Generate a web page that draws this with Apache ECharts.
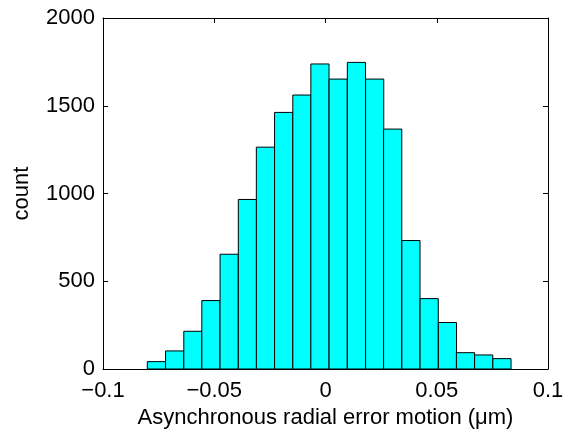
<!DOCTYPE html>
<html><head><meta charset="utf-8">
<script src="https://cdn.jsdelivr.net/npm/echarts@6/dist/echarts.min.js"></script>
<style>html,body{margin:0;padding:0;background:#fff}#c{width:564px;height:430px}</style>
</head><body><div id="c"></div>
<script>
const binCenters = [-0.0760,-0.0678,-0.0596,-0.0515,-0.0433,-0.0351,-0.0270,-0.0188,-0.0106,-0.0025,
                    0.0057,0.0139,0.0221,0.0302,0.0384,0.0466,0.0548,0.0629,0.0711,0.0793];
const binWidth = 0.008173;
const counts = [42,103,215,390,654,966,1264,1462,1561,1738,1652,1747,1652,1367,732,401,265,93,80,59];
const xTicks = [-0.1,-0.05,0,0.05,0.1];
const yTicks = [0,500,1000,1500,2000];
const xLabel = 'Asynchronous radial error motion (\u03bcm)';
const yLabel = 'count';

const font = 'Liberation Sans, Arial, sans-serif';
const fs = 22;
const fmtX = v => { const s = String(Math.abs(v)); return v < 0 ? '\u2212' + s : s; };
const fmtY = v => String(v);
const axLine = {show:true, onZero:false, lineStyle:{color:'#000', width:1}};
const tick = {show:true, inside:true, length:5, lineStyle:{color:'#000', width:1}};

const chart = echarts.init(document.getElementById('c'), null, {renderer:'canvas'});
chart.setOption({
  animation:false,
  grid:{left:103, top:18, width:445, height:351, containLabel:false, outerBoundsMode:'none'},
  xAxis:[
    {type:'value', position:'bottom', min:xTicks[0], max:xTicks[xTicks.length-1], interval:0.05,
     axisLine:axLine, axisTick:tick, splitLine:{show:false},
     axisLabel:{color:'#000', fontSize:fs, fontFamily:font, margin:11, formatter:fmtX},
     name:xLabel, nameLocation:'middle', nameGap:36,
     nameTextStyle:{color:'#000', fontSize:fs, fontFamily:font}},
    {type:'value', position:'top', min:xTicks[0], max:xTicks[xTicks.length-1], interval:0.05,
     axisLine:axLine, axisTick:tick, splitLine:{show:false}, axisLabel:{show:false}}
  ],
  yAxis:[
    {type:'value', position:'left', min:yTicks[0], max:yTicks[yTicks.length-1], interval:500,
     axisLine:axLine, axisTick:tick, splitLine:{show:false},
     axisLabel:{color:'#000', fontSize:fs, fontFamily:font, margin:8, formatter:fmtY},
     name:yLabel, nameLocation:'middle', nameGap:70, nameRotate:90,
     nameTextStyle:{color:'#000', fontSize:fs, fontFamily:font}},
    {type:'value', position:'right', min:yTicks[0], max:yTicks[yTicks.length-1], interval:500,
     axisLine:axLine, axisTick:tick, splitLine:{show:false}, axisLabel:{show:false}}
  ],
  series:[{
    type:'custom',
    xAxisIndex:0, yAxisIndex:0,
    data: binCenters.map((c,i)=>[c, counts[i]]),
    renderItem:(params, api)=>{
      const c = api.value(0), v = api.value(1);
      const p1 = api.coord([c - binWidth/2, v]);
      const p2 = api.coord([c + binWidth/2, 0]);
      return {type:'rect',
        shape:{x:p1[0], y:p1[1], width:p2[0]-p1[0], height:p2[1]-p1[1]},
        style:{fill:'#00ffff', stroke:'#000', lineWidth:1}};
    }
  }]
});
</script></body></html>
